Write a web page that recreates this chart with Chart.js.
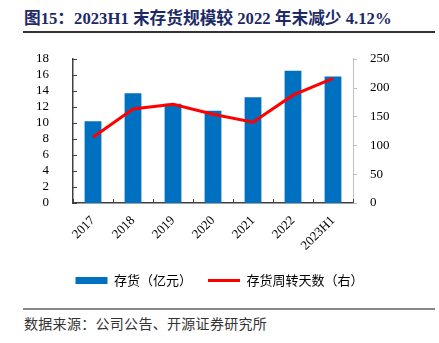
<!DOCTYPE html>
<html>
<head>
<meta charset="utf-8">
<script src="https://cdn.jsdelivr.net/npm/chart.js@4"></script>
<style>
  body { margin: 0; background: #fff; width: 439px; height: 343px; position: relative; overflow: hidden; }
  #title { position: absolute; left: 24px; top: 5px; font: bold 16.7px "Liberation Serif", "Noto Sans CJK SC", serif; color: #1c2a66; white-space: nowrap; }
  #rule1 { position: absolute; left: 23px; top: 31px; width: 412px; height: 2px; background: #333; }
  #wrap { position: absolute; left: 0; top: 35px; width: 439px; height: 262px; }
  #rule2 { position: absolute; left: 23px; top: 308px; width: 412px; height: 2px; background: #888; }
  #source { position: absolute; left: 24px; top: 313px; font: 14px "Noto Sans CJK SC", sans-serif; color: #333; white-space: nowrap; letter-spacing: 0.3px; }
</style>
</head>
<body>
<div id="title">图15：2023H1 末存货规模较 2022 年末减少 4.12%</div>
<div id="rule1"></div>
<div id="wrap"><canvas id="c"></canvas></div>
<div id="rule2"></div>
<div id="source">数据来源：公司公告、开源证券研究所</div>
<script>
'use strict'

const years = ['2017', '2018', '2019', '2020', '2021', '2022', '2023H1']
const inventory = [10.2, 13.7, 12.4, 11.5, 13.2, 16.5, 15.8]
const turnoverDays = [114, 163, 171, 154, 140, 187, 216]
const leftTicks = [0, 2, 4, 6, 8, 10, 12, 14, 16, 18]
const rightTicks = [0, 50, 100, 150, 200, 250]

const tickFont = { family: 'Liberation Serif', size: 13 }

// small inward tick marks like the original Excel chart
const innerTicks = {
  id: 'innerTicks',
  afterDatasetsDraw (chart) {
    const { ctx, chartArea, scales } = chart
    ctx.save()
    ctx.lineWidth = 1
    ctx.strokeStyle = '#404040'
    ctx.beginPath()
    for (const v of leftTicks) {
      const y = Math.round(scales.y.getPixelForValue(v)) + 0.5
      ctx.moveTo(chartArea.left, y)
      ctx.lineTo(chartArea.left + 4, y)
    }
    for (let i = 0; i <= years.length; i++) {
      const x = Math.round(scales.x.getPixelForValue(i - 0.5)) + 0.5
      ctx.moveTo(x, chartArea.bottom)
      ctx.lineTo(x, chartArea.bottom - 4)
    }
    ctx.stroke()
    ctx.strokeStyle = '#bfbfbf'
    ctx.beginPath()
    for (const v of rightTicks) {
      const y = Math.round(scales.y1.getPixelForValue(v)) + 0.5
      ctx.moveTo(chartArea.right, y)
      ctx.lineTo(chartArea.right + 4, y)
    }
    ctx.stroke()
    ctx.restore()
  }
}

new Chart(document.getElementById('c'), {
  data: {
    labels: years,
    datasets: [
      {
        type: 'line',
        label: '存货周转天数（右）',
        data: turnoverDays,
        yAxisID: 'y1',
        borderColor: '#ff0000',
        backgroundColor: '#ff0000',
        borderWidth: 3,
        pointRadius: 0,
        tension: 0
      },
      {
        type: 'bar',
        label: '存货（亿元）',
        data: inventory,
        yAxisID: 'y',
        backgroundColor: '#0070c0',
        categoryPercentage: 0.42,
        barPercentage: 1
      }
    ]
  },
  options: {
    responsive: true,
    maintainAspectRatio: false,
    animation: false,
    layout: { padding: { top: 14, left: 0, right: 0, bottom: 0 } },
    plugins: {
      tooltip: { enabled: false },
      legend: {
        position: 'bottom',
        labels: {
          sort: (a, b) => b.datasetIndex - a.datasetIndex,
          usePointStyle: true,
          pointStyle: 'rect',
          pointStyleWidth: 32,
          boxHeight: 7,
          padding: 16,
          color: '#000',
          font: { family: 'Noto Sans CJK SC', size: 13 },
          generateLabels (chart) {
            const items = Chart.defaults.plugins.legend.labels.generateLabels(chart)
            for (const it of items) {
              if (it.datasetIndex === 0) {
                it.pointStyle = 'line'
                it.lineWidth = 3
                it.strokeStyle = '#ff0000'
              } else {
                it.pointStyle = 'rect'
                it.lineWidth = 0
              }
            }
            return items
          }
        }
      }
    },
    scales: {
      x: {
        grid: { display: false },
        border: { color: '#404040', width: 1.5 },
        ticks: { color: '#000', font: tickFont, minRotation: 45, maxRotation: 45, padding: 2, autoSkip: false },
        afterFit: (scale) => { scale.height = 55 }
      },
      y: {
        position: 'left',
        min: 0,
        max: 18,
        afterBuildTicks: (scale) => { scale.ticks = leftTicks.map(v => ({ value: v })) },
        grid: { display: false },
        border: { color: '#404040', width: 1.5 },
        ticks: { color: '#000', font: tickFont, padding: 16, autoSkip: false },
        afterFit: (scale) => { scale.width = 73 }
      },
      y1: {
        position: 'right',
        min: 0,
        max: 250,
        afterBuildTicks: (scale) => { scale.ticks = rightTicks.map(v => ({ value: v })) },
        grid: { display: false },
        border: { color: '#bfbfbf', width: 1 },
        ticks: { color: '#000', font: tickFont, padding: 9, autoSkip: false },
        afterFit: (scale) => { scale.width = 86 }
      }
    }
  },
  plugins: [innerTicks]
})
</script>
</body>
</html>
